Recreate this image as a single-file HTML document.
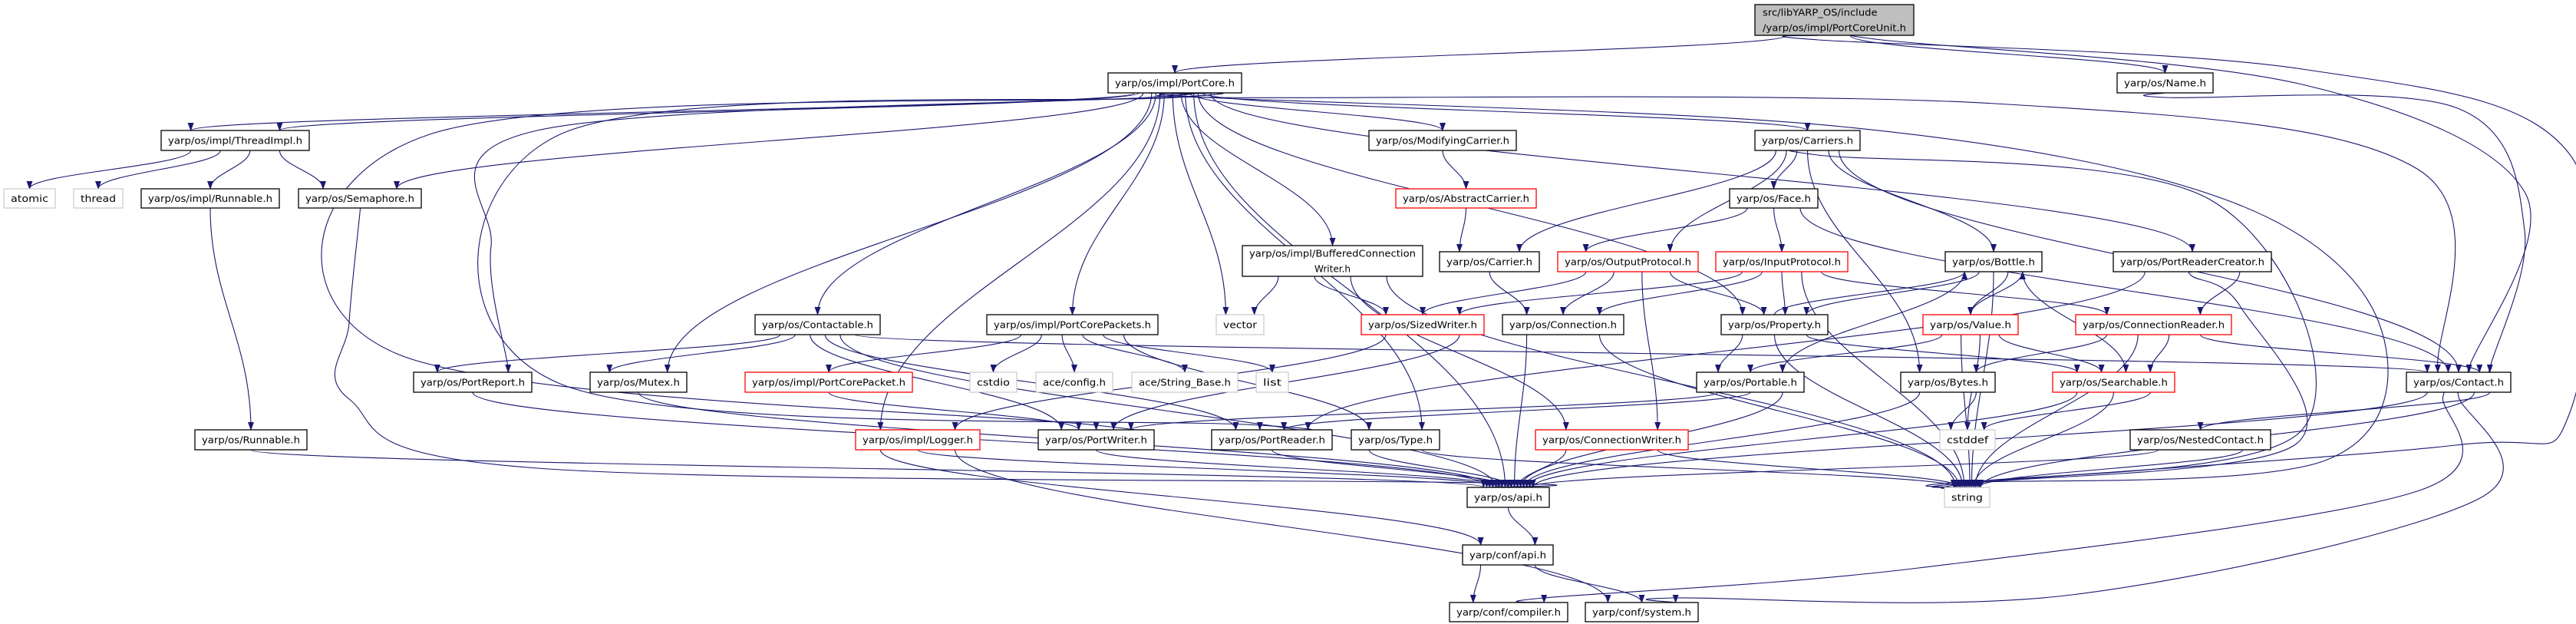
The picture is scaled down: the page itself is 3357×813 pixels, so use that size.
<!DOCTYPE html>
<html><head><meta charset="utf-8">
<style>
html,body{margin:0;padding:0;background:#fff;}
svg{display:block;}
text{font-family:"DejaVu Sans","Liberation Sans",sans-serif;font-size:12px;fill:#000;}
</style></head>
<body>
<svg id="g" width="3357" height="813" viewBox="0 0 3357 813" xmlns="http://www.w3.org/2000/svg">
<defs>
<marker id="ah" markerWidth="11" markerHeight="8" refX="10" refY="4" orient="auto" markerUnits="userSpaceOnUse">
<path d="M0,0 L11,4 L0,8 z" fill="#191970"/>
</marker>
</defs>
<g id="edges"></g>
<g id="nodes"></g>
</svg>
<script>
const nodeIds = ["unit","portcore","name","threadimpl","modcarrier","carriers","atomic","thread","implrunnable","semaphore","abstractcarrier","face","buffered","carrier","outputproto","inputproto","bottle","prc","contactable","packets","vector","sizedwriter","connection","property","value","connreader","portreport","mutex","packet","cstdio","aceconfig","acestring","list","portable","bytes","searchable","contact","runnable","logger","portwriter","portreader","type","connwriter","cstddef","nested","api","string","confapi","compiler","system"];
const nodeLabels = [["src/libYARP_OS/include","/yarp/os/impl/PortCoreUnit.h"],["yarp/os/impl/PortCore.h"],["yarp/os/Name.h"],["yarp/os/impl/ThreadImpl.h"],["yarp/os/ModifyingCarrier.h"],["yarp/os/Carriers.h"],["atomic"],["thread"],["yarp/os/impl/Runnable.h"],["yarp/os/Semaphore.h"],["yarp/os/AbstractCarrier.h"],["yarp/os/Face.h"],["yarp/os/impl/BufferedConnection","Writer.h"],["yarp/os/Carrier.h"],["yarp/os/OutputProtocol.h"],["yarp/os/InputProtocol.h"],["yarp/os/Bottle.h"],["yarp/os/PortReaderCreator.h"],["yarp/os/Contactable.h"],["yarp/os/impl/PortCorePackets.h"],["vector"],["yarp/os/SizedWriter.h"],["yarp/os/Connection.h"],["yarp/os/Property.h"],["yarp/os/Value.h"],["yarp/os/ConnectionReader.h"],["yarp/os/PortReport.h"],["yarp/os/Mutex.h"],["yarp/os/impl/PortCorePacket.h"],["cstdio"],["ace/config.h"],["ace/String_Base.h"],["list"],["yarp/os/Portable.h"],["yarp/os/Bytes.h"],["yarp/os/Searchable.h"],["yarp/os/Contact.h"],["yarp/os/Runnable.h"],["yarp/os/impl/Logger.h"],["yarp/os/PortWriter.h"],["yarp/os/PortReader.h"],["yarp/os/Type.h"],["yarp/os/ConnectionWriter.h"],["cstddef"],["yarp/os/NestedContact.h"],["yarp/os/api.h"],["string"],["yarp/conf/api.h"],["yarp/conf/compiler.h"],["yarp/conf/system.h"]];
const nodeX1 = [2287,1444,2759,210,1784,2287,5,96,184,389,1819,2254,1619,1876,2030,2236,2535,2754,984,1286,1585,1774,1958,2243,2506,2705,539,769,971,1264,1350,1475,1637,2211,2477,2675,3136,254,1115,1353,1579,1761,2001,2528,2776,1912,2534,1906,1889,2066];
const nodeX2 = [2494,1618,2884,403,1976,2424,72,160,364,549,2002,2369,1854,2006,2213,2408,2661,2960,1147,1509,1647,1934,2116,2382,2630,2908,693,895,1189,1325,1450,1613,1679,2351,2600,2834,3272,400,1277,1504,1736,1876,2200,2600,2959,2019,2593,2024,2043,2213];
const nodeY1 = [6,95,95,170,170,170,246,246,246,246,246,246,320,328,328,328,328,328,410,410,410,410,410,410,410,410,485,485,485,485,485,485,485,485,485,485,485,560,560,560,560,560,560,560,560,635,635,710,785,785];
const nodeY2 = [46,121,121,196,196,196,271,271,271,271,271,271,360,354,354,354,354,354,436,436,436,436,436,436,436,436,511,511,511,511,511,511,511,511,511,511,511,586,586,586,586,586,586,586,586,661,661,736,810,810];
const nodeStyle = ["root","n","n","n","n","n","g","g","n","n","r","n","n","n","r","r","n","n","n","n","g","r","n","n","r","r","n","n","r","g","g","g","g","n","n","r","n","n","r","n","n","n","r","g","n","n","g","n","n","n"];

const edgeFrom = ["unit","unit","unit","unit",
 "portcore","portcore","portcore","portcore","portcore","portcore","portcore","portcore","portcore","portcore","portcore","portcore","portcore","portcore","portcore","portcore","portcore","portcore","portcore","portcore",
 "threadimpl","threadimpl","threadimpl","threadimpl","implrunnable","runnable","semaphore","portreport","mutex",
 "contactable","contactable","contactable","contactable","contactable","contactable",
 "modcarrier","abstractcarrier",
 "carriers","carriers","carriers","carriers","carriers","carriers","carriers",
 "face","face","face",
 "buffered","buffered","buffered","buffered","carrier",
 "outputproto","outputproto","outputproto","outputproto",
 "inputproto","inputproto","inputproto","inputproto","inputproto",
 "bottle","bottle","bottle","bottle","bottle",
 "property","property","property","property",
 "value","value","value","value","value",
 "prc","prc","prc","connreader","connreader","connreader","connreader",
 "portable","portable","portable","bytes","bytes","searchable","searchable","searchable",
 "contact","contact","contact","contact","contact","nested","nested","name",
 "sizedwriter","sizedwriter","connection","connection",
 "packets","packets","packets","packets","packets","packets","packet",
 "logger","logger","logger","portwriter","portreader","type","type","connwriter","connwriter",
 "api","confapi","confapi"];
const edgeTo = ["portcore","name","contact","string",
 "threadimpl","threadimpl","semaphore","portreport","mutex","contactable","packets","vector","buffered","modcarrier","carriers","property","prc","contact","string","portwriter","portreader","type","api","logger",
 "atomic","thread","implrunnable","semaphore","runnable","api","api","api","api",
 "portreport","mutex","contact","portwriter","portreader","api",
 "abstractcarrier","carrier",
 "carrier","outputproto","face","bytes","bottle","contact","string",
 "outputproto","inputproto","contact",
 "vector","sizedwriter","connwriter","string","connection",
 "sizedwriter","connection","connwriter","property",
 "property","sizedwriter","connection","connreader","string",
 "property","value","searchable","portable","string",
 "bottle","portable","searchable","string",
 "bottle","portable","searchable","cstddef","string",
 "connreader","portreader","string","bytes","searchable","contact","string",
 "portwriter","portreader","api","cstddef","api","cstddef","string","api",
 "nested","string","api","compiler","system","string","api","contact",
 "portwriter","logger","api","string",
 "packet","cstdio","aceconfig","acestring","list","type","portwriter",
 "api","confapi","system","api","api","api","string","api","string",
 "confapi","compiler","system"];

// routing hints (layout, not data): edge key -> waypoints
const routing = {
  "unit>contact": [[3000,110],[3290,250]],
  "unit>string": [[3000,90],[3348,200],[3348,540],[3200,580]],
  "name>contact": [[3200,140],[3290,300]],
  "portcore>contact": [[2600,135],[3150,220]],
  "portcore>string": [[2400,165],[2900,260],[3100,420],[3030,600]],
  "semaphore>api": [[455,420],[455,520],[700,610]],
  "portcore>portreport": [[700,170],[640,320]],
  "portcore>portwriter": [[560,175],[515,460]],
  "portcore>portreader": [[730,175],[730,500]],
  "contact>compiler": [[3150,640],[2500,740]],
  "contact>system": [[3230,650],[2700,775]],
  "carriers>string": [[2880,260],[3000,560]],
  "prc>string": [[2920,400],[2990,580]]
};

const svg = document.getElementById('g');
const eg = document.getElementById('edges');
const ng = document.getElementById('nodes');
const NS = "http://www.w3.org/2000/svg";
const idx = {};
nodeIds.forEach((id,i)=>idx[id]=i);

const outs = {}, ins = {};
edgeFrom.forEach((f,k)=>{
  const t = edgeTo[k];
  const up = nodeY1[idx[t]] < nodeY1[idx[f]];
  const so = up ? 'top' : 'bot';
  const ti = up ? 'bot' : 'top';
  (outs[f+so] = outs[f+so] || []).push(k);
  (ins[t+ti] = ins[t+ti] || []).push(k);
});
const cx = i => (nodeX1[i]+nodeX2[i])/2;
const srcX = {}, dstX = {};
function spread(groups, store, other){
  for (const key in groups){
    const list = groups[key];
    const id = key.slice(0,-3);
    const i = idx[id];
    list.sort((a,b)=>cx(idx[other[a]])-cx(idx[other[b]]));
    const w = (nodeX2[i]-nodeX1[i])*0.6;
    const n = list.length;
    list.forEach((k,j)=>{
      store[k] = n===1 ? cx(i) : cx(i) - w/2 + w*j/(n-1);
    });
  }
}
spread(outs, srcX, edgeTo);
spread(ins, dstX, edgeFrom);

function smooth(pts){
  let d = `M${pts[0][0]},${pts[0][1]}`;
  for (let i=0;i<pts.length-1;i++){
    const p0 = pts[Math.max(0,i-1)], p1 = pts[i], p2 = pts[i+1], p3 = pts[Math.min(pts.length-1,i+2)];
    const c1 = [p1[0]+(p2[0]-p0[0])/6, p1[1]+(p2[1]-p0[1])/6];
    const c2 = [p2[0]-(p3[0]-p1[0])/6, p2[1]-(p3[1]-p1[1])/6];
    d += ` C${c1[0]},${c1[1]} ${c2[0]},${c2[1]} ${p2[0]},${p2[1]}`;
  }
  return d;
}

edgeFrom.forEach((f,k)=>{
  const a = idx[f], b = idx[edgeTo[k]];
  const up = nodeY1[b] < nodeY1[a];
  const sx = srcX[k], tx = dstX[k];
  const sy = up ? nodeY1[a] : nodeY2[a];
  const ty = up ? nodeY2[b] : nodeY1[b];
  const via = routing[f+'>'+edgeTo[k]];
  let d;
  if (via){
    const pts = [[sx,sy],[sx,sy+6]].concat(via).concat([[tx,ty-6],[tx,ty]]);
    d = smooth(pts);
  } else {
    const dy = (ty - sy) * 0.4;
    d = `M${sx},${sy} C${sx},${sy+dy} ${tx},${ty-dy} ${tx},${ty}`;
  }
  const p = document.createElementNS(NS,'path');
  p.setAttribute('d', d);
  p.setAttribute('fill','none');
  p.setAttribute('stroke','#191970');
  p.setAttribute('stroke-width','1.1');
  p.setAttribute('marker-end','url(#ah)');
  
  
  eg.appendChild(p);
});

nodeIds.forEach((id,i)=>{
  const g = document.createElementNS(NS,'g');
  
  
  const r = document.createElementNS(NS,'rect');
  const w = nodeX2[i]-nodeX1[i], h = nodeY2[i]-nodeY1[i];
  r.setAttribute('x', nodeX1[i]); r.setAttribute('y', nodeY1[i]);
  r.setAttribute('width', w); r.setAttribute('height', h);
  const st = nodeStyle[i];
  r.setAttribute('fill', st==='root' ? '#bfbfbf' : '#fff');
  r.setAttribute('stroke', st==='r' ? '#ff0000' : (st==='g' ? '#bfbfbf' : '#000'));
  r.setAttribute('stroke-width', st==='g' ? '1' : '1.3');
  g.appendChild(r);
  const lines = nodeLabels[i];
  lines.forEach((ln,j)=>{
    const t = document.createElementNS(NS,'text');
    const lh = h / lines.length;
    t.setAttribute('y', nodeY1[i] + lh*j + lh/2 + 4.5);
    if (st==='root'){
      t.setAttribute('x', nodeX1[i]+10);
    } else {
      t.setAttribute('x', nodeX1[i]+w/2);
      t.setAttribute('text-anchor','middle');
    }
    const tl = st==='root' ? (j===0 ? (w-20)*0.8 : w-20) : (lines.length>1 && j===1 ? null : w-18);
    if (tl) { t.setAttribute('textLength', tl); t.setAttribute('lengthAdjust','spacingAndGlyphs'); }
    t.textContent = ln;
    g.appendChild(t);
  });
  ng.appendChild(g);
});
</script>
</body></html>
